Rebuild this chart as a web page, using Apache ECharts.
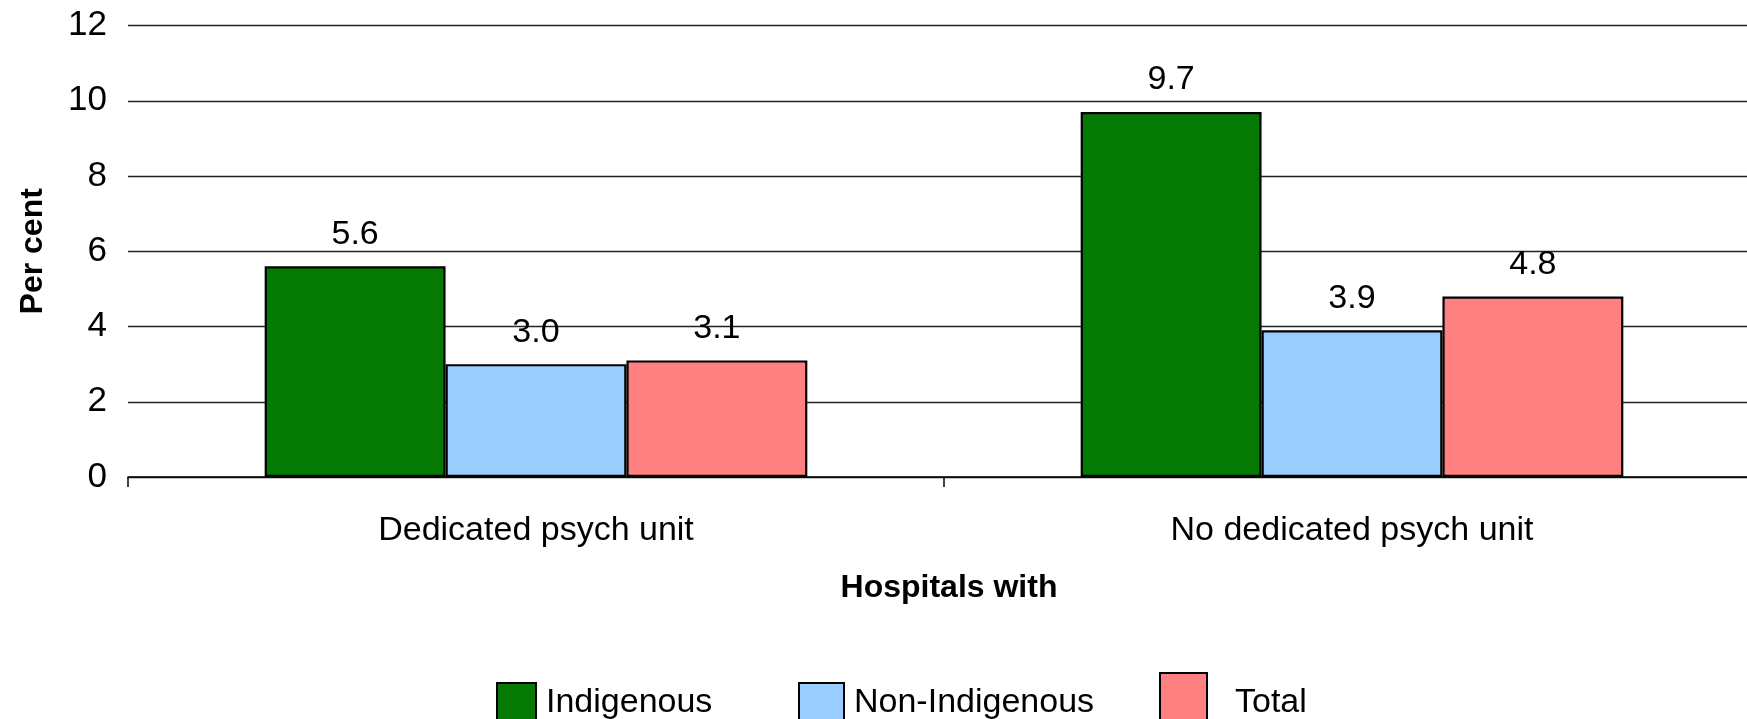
<!DOCTYPE html>
<html>
<head>
<meta charset="utf-8">
<script src="https://cdn.jsdelivr.net/npm/echarts@6/dist/echarts.min.js"></script>
<style>
html,body{margin:0;padding:0;background:#fff;}
#chart{width:1747px;height:719px;}
</style>
</head>
<body>
<div id="chart"></div>
<script>
const categories = ['Dedicated psych unit', 'No dedicated psych unit'];
const seriesNames = ['Indigenous', 'Non-Indigenous', 'Total'];
const indigenous = [5.6, 9.7];
const nonIndigenous = [3.0, 3.9];
const total = [3.1, 4.8];
const yTicks = [0, 2, 4, 6, 8, 10, 12];

const FONT = "'Liberation Sans', Arial, sans-serif";
const colors = ['#047A04', '#99CCFF', '#FF8080'];
const values = [indigenous, nonIndigenous, total];

const chart = echarts.init(document.getElementById('chart'), null, {renderer: 'canvas'});

function makeSeries(i) {
  return {
    name: seriesNames[i],
    type: 'bar',
    data: values[i],
    barGap: '0%',
    barCategoryGap: '33.5%',
    itemStyle: {color: colors[i], borderColor: '#000', borderWidth: 2.2},
    label: {
      show: true, position: 'top', distance: 15,
      formatter: p => p.value.toFixed(1),
      color: '#000', fontFamily: FONT, fontSize: 34
    },
    emphasis: {disabled: true},
    animation: false
  };
}

const legendBase = {
  orient: 'horizontal', padding: 0, selectedMode: false,
  icon: 'rect',
  textStyle: {fontFamily: FONT, fontSize: 34, color: '#000'}
};

const option = {
  backgroundColor: '#fff',
  animation: false,
  grid: {left: 128, right: -13, top: 25.6, bottom: 242, containLabel: false, outerBoundsMode: 'none'},
  legend: [
    Object.assign({}, legendBase, {data: [seriesNames[0]], left: 496, top: 682, itemWidth: 39, itemHeight: 40,
      textStyle: Object.assign({}, legendBase.textStyle, {padding: [0, 0, 0, 5]})}),
    Object.assign({}, legendBase, {data: [seriesNames[1]], left: 798, top: 682, itemWidth: 45, itemHeight: 40,
      textStyle: Object.assign({}, legendBase.textStyle, {padding: [0, 0, 0, 5]})}),
    Object.assign({}, legendBase, {data: [seriesNames[2]], left: 1159, top: 672, itemWidth: 47, itemHeight: 47,
      formatter: n => '{t|' + n + '}',
      textStyle: Object.assign({}, legendBase.textStyle, {
        rich: {t: {fontFamily: FONT, fontSize: 34, color: '#000', padding: [12, 0, 0, 23]}}
      })})
  ],
  xAxis: {
    type: 'category',
    data: categories,
    name: 'Hospitals with',
    nameLocation: 'middle',
    nameGap: 95,
    nameTextStyle: {fontFamily: FONT, fontSize: 32, fontWeight: 'bold', color: '#000', padding: [0, 0, 0, 10]},
    axisLine: {show: true, lineStyle: {color: '#000', width: 1.5}},
    axisTick: {show: true, length: 10, lineStyle: {color: '#000', width: 1.5}},
    axisLabel: {margin: 37, fontFamily: FONT, fontSize: 34, color: '#000'},
    splitLine: {show: false}
  },
  yAxis: {
    type: 'value',
    min: yTicks[0],
    max: yTicks[yTicks.length - 1],
    interval: 2,
    name: 'Per cent',
    nameLocation: 'middle',
    nameGap: 79,
    nameTextStyle: {fontFamily: FONT, fontSize: 32, fontWeight: 'bold', color: '#000'},
    axisLine: {show: false},
    axisTick: {show: false},
    axisLabel: {margin: 21, fontFamily: FONT, fontSize: 35, color: '#000'},
    splitLine: {show: true, lineStyle: {color: '#222', width: 1.3}}
  },
  series: [makeSeries(0), makeSeries(1), makeSeries(2)]
};

chart.setOption(option);
</script>
</body>
</html>
